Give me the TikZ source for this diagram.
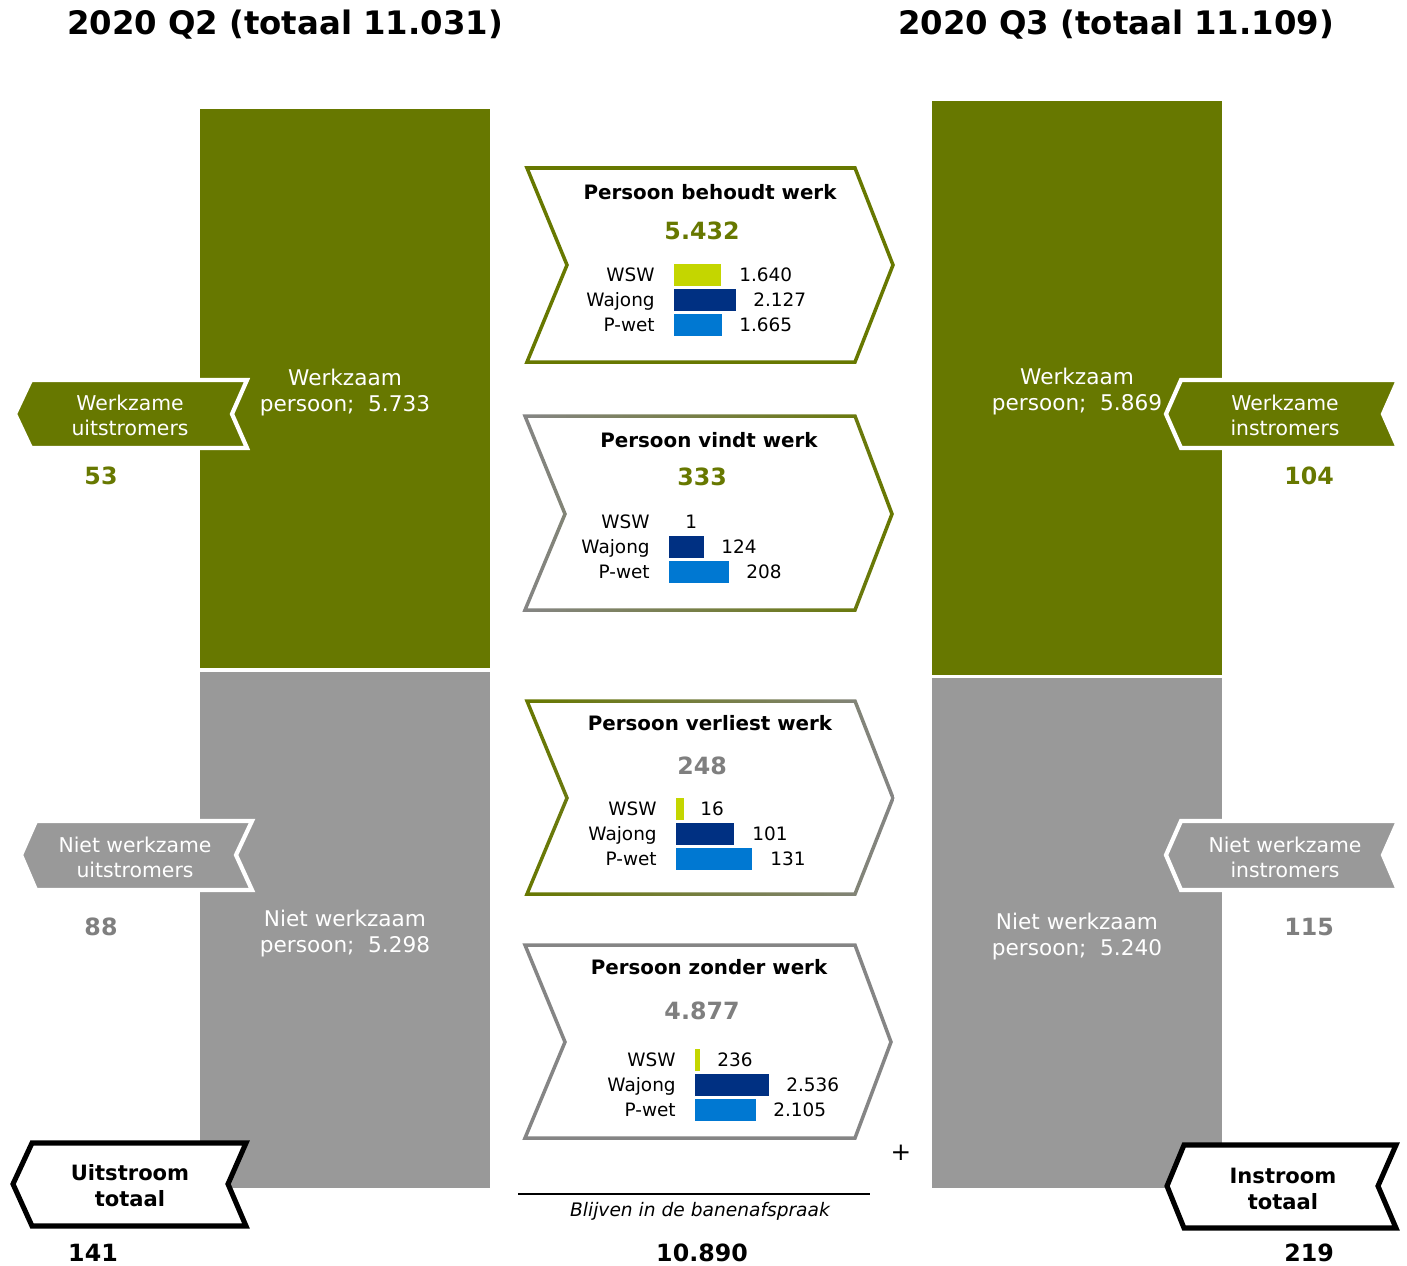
\documentclass[tikz,border=0pt]{standalone}
\usepackage{fontspec}
\setmainfont{DejaVu Sans}
\definecolor{bolive}{HTML}{677800}
\definecolor{bgrey}{HTML}{999999}
\definecolor{lgrey}{HTML}{858585}
\definecolor{numgrey}{HTML}{7F7F7F}
\definecolor{wswgreen}{HTML}{C4D600}
\definecolor{wajblue}{HTML}{003082}
\definecolor{pwblue}{HTML}{0078D2}
\tikzset{
  title/.style={font=\fontsize{18.4}{22}\selectfont\bfseries},
  bartext/.style={font=\fontsize{12.3}{14.8}\selectfont, text=white, align=center, inner sep=0pt},
  tagtext/.style={font=\fontsize{11.6}{14.2}\selectfont, text=white, align=center, inner sep=0pt},
  tottext/.style={font=\fontsize{12}{14.8}\selectfont\bfseries, align=center, inner sep=0pt},
  count/.style={font=\fontsize{13.5}{16}\selectfont\bfseries, inner sep=0pt},
  chevtitle/.style={font=\fontsize{11.3}{14}\selectfont\bfseries, inner sep=0pt},
  rowlabel/.style={font=\fontsize{10.5}{12}\selectfont, anchor=east, text height=7.6pt, text depth=0pt, inner sep=0pt},
  rowvalue/.style={rowlabel, anchor=west},
  tag/.style={draw=white, line width=2.4pt},
  totbox/.style={draw=black, fill=white, line width=2.9pt},
  chev/.style={fill=white, line width=2pt}
}
\begin{document}
\begin{tikzpicture}[x=0.02cm, y=-0.02cm]
\useasboundingbox (0,0) rectangle (1407,1265);
% kolommen
\fill[bolive] (200,109) rectangle (490,668);
\fill[bgrey] (200,672) rectangle (490,1188);
\fill[bolive] (932,101) rectangle (1222,675);
\fill[bgrey] (932,678) rectangle (1222,1188);

\node[title] (q2) at (285,25) {2020 Q2 (totaal 11.031)};
\node[title] (q3) at (1116,25) {2020 Q3 (totaal 11.109)};

\node[bartext] (werkq2) at (345,393) {Werkzaam\\persoon;~~5.733};
\node[bartext] (nietq2) at (345,934) {Niet werkzaam\\persoon;~~5.298};
\node[bartext] (werkq3) at (1077,392) {Werkzaam\\persoon;~~5.869};
\node[bartext] (nietq3) at (1077,937) {Niet werkzaam\\persoon;~~5.240};

% uitstroom / instroom
\draw[tag, fill=bolive] (15,414) -- (31,380) -- (247,380) -- (232,414) -- (247,448) -- (31,448) -- cycle;
\draw[tag, fill=bolive] (1166,414) -- (1181,380) -- (1398,380) -- (1383,414) -- (1398,448) -- (1181,448) -- cycle;
\draw[tag, fill=bgrey] (21,855) -- (36,821) -- (252,821) -- (236,855) -- (252,890) -- (36,890) -- cycle;
\draw[tag, fill=bgrey] (1166,855) -- (1181,821) -- (1398,821) -- (1383,855) -- (1398,890) -- (1181,890) -- cycle;
\draw[totbox] (13,1184) -- (32,1143) -- (246,1143) -- (228,1184) -- (246,1226) -- (32,1226) -- cycle;
\draw[totbox] (1167,1186) -- (1184,1145) -- (1396,1145) -- (1378,1186) -- (1396,1228) -- (1184,1228) -- cycle;

\node[tagtext] (uitwerk) at (130,415) {Werkzame\\uitstromers};
\node[tagtext] (inwerk) at (1285,415) {Werkzame\\instromers};
\node[tagtext] (uitniet) at (135,857) {Niet werkzame\\uitstromers};
\node[tagtext] (inniet) at (1285,857) {Niet werkzame\\instromers};
\node[tottext] (uittot) at (130,1186) {Uitstroom\\totaal};
\node[tottext] (intot) at (1283,1189) {Instroom\\totaal};

\node[count, bolive] (nuitwerk) at (101,476) {53};
\node[count, bolive] (ninwerk) at (1309,476) {104};
\node[count, numgrey] (nuitniet) at (101,927) {88};
\node[count, numgrey] (ninniet) at (1309,927) {115};
\node[count] (nuittot) at (93,1253) {141};
\node[count] (nintot) at (1309,1253) {219};
\node[count] (nblijf) at (702,1253) {10.890};

% overgangen
\draw[chev, draw=bolive] (527,168) -- (855,168) -- (893,265) -- (855,362) -- (527,362) -- (567,265) -- cycle;
\fill[white] (525,416) -- (855,416) -- (892,514) -- (855,610) -- (525,610) -- (565,514) -- cycle;
\shade[left color=lgrey, right color=bolive, even odd rule] (522.4,414.25) -- (856.2,414.25) -- (893.9,514) -- (856.2,611.75) -- (522.4,611.75) -- (563.1,514) -- cycle (527.6,417.75) -- (853.8,417.75) -- (890.1,514) -- (853.8,608.25) -- (527.6,608.25) -- (566.9,514) -- cycle;
\fill[white] (527,701) -- (855,701) -- (893,798) -- (855,894) -- (527,894) -- (567,798) -- cycle;
\shade[left color=bolive, right color=lgrey, even odd rule] (524.4,699.25) -- (856.2,699.25) -- (894.9,798) -- (856.2,895.75) -- (524.4,895.75) -- (565.1,798) -- cycle (529.6,702.75) -- (853.8,702.75) -- (891.1,798) -- (853.8,892.25) -- (529.6,892.25) -- (568.9,798) -- cycle;
\draw[chev, draw=lgrey] (525,945) -- (855,945) -- (891,1042) -- (855,1138) -- (525,1138) -- (565,1042) -- cycle;

\node[chevtitle] (behoudt) at (710,192) {Persoon behoudt werk};
\node[count, bolive] (nbehoudt) at (702,231) {5.432};
\node[rowlabel] (b1) at (655,275) {WSW};
\node[rowlabel] (b2) at (655,300) {Wajong};
\node[rowlabel] (b3) at (655,325) {P-wet};
\fill[wswgreen] (674,264) rectangle (721,286);
\fill[wajblue] (674,289) rectangle (736,311);
\fill[pwblue] (674,314) rectangle (722,336);
\node[rowvalue] (vb1) at (739,275) {1.640};
\node[rowvalue] (vb2) at (753,300) {2.127};
\node[rowvalue] (vb3) at (739,325) {1.665};

\node[chevtitle] (vindt) at (709,440) {Persoon vindt werk};
\node[count, bolive] (nvindt) at (702,477) {333};
\node[rowlabel] (f1) at (650,522) {WSW};
\node[rowlabel] (f2) at (650,547) {Wajong};
\node[rowlabel] (f3) at (650,572) {P-wet};
\fill[wajblue] (669,536) rectangle (704,558);
\fill[pwblue] (669,561) rectangle (729,583);
\node[rowvalue] (vf1) at (685,522) {1};
\node[rowvalue] (vf2) at (721,547) {124};
\node[rowvalue] (vf3) at (746,572) {208};

\node[chevtitle] (verliest) at (710,723) {Persoon verliest werk};
\node[count, numgrey] (nverliest) at (702,766) {248};
\node[rowlabel] (l1) at (657,809) {WSW};
\node[rowlabel] (l2) at (657,834) {Wajong};
\node[rowlabel] (l3) at (657,859) {P-wet};
\fill[wswgreen] (676,798) rectangle (684,820);
\fill[wajblue] (676,823) rectangle (734,845);
\fill[pwblue] (676,848) rectangle (752,870);
\node[rowvalue] (vl1) at (700,809) {16};
\node[rowvalue] (vl2) at (752,834) {101};
\node[rowvalue] (vl3) at (770,859) {131};

\node[chevtitle] (zonder) at (709,967) {Persoon zonder werk};
\node[count, numgrey] (nzonder) at (702,1011) {4.877};
\node[rowlabel] (z1) at (676,1060) {WSW};
\node[rowlabel] (z2) at (676,1085) {Wajong};
\node[rowlabel] (z3) at (676,1110) {P-wet};
\fill[wswgreen] (695,1049) rectangle (700,1071);
\fill[wajblue] (695,1074) rectangle (769,1096);
\fill[pwblue] (695,1099) rectangle (756,1121);
\node[rowvalue] (vz1) at (717,1060) {236};
\node[rowvalue] (vz2) at (786,1085) {2.536};
\node[rowvalue] (vz3) at (773,1110) {2.105};

\node[font=\fontsize{14}{16}\selectfont, inner sep=0pt] (plus) at (901,1153) {+};
\draw[line width=0.7pt] (518,1194) -- (870,1194);
\node[font=\fontsize{10.6}{12}\selectfont\itshape, inner sep=0pt] (blijf) at (700,1211) {Blijven in de banenafspraak};
\end{tikzpicture}
\end{document}
